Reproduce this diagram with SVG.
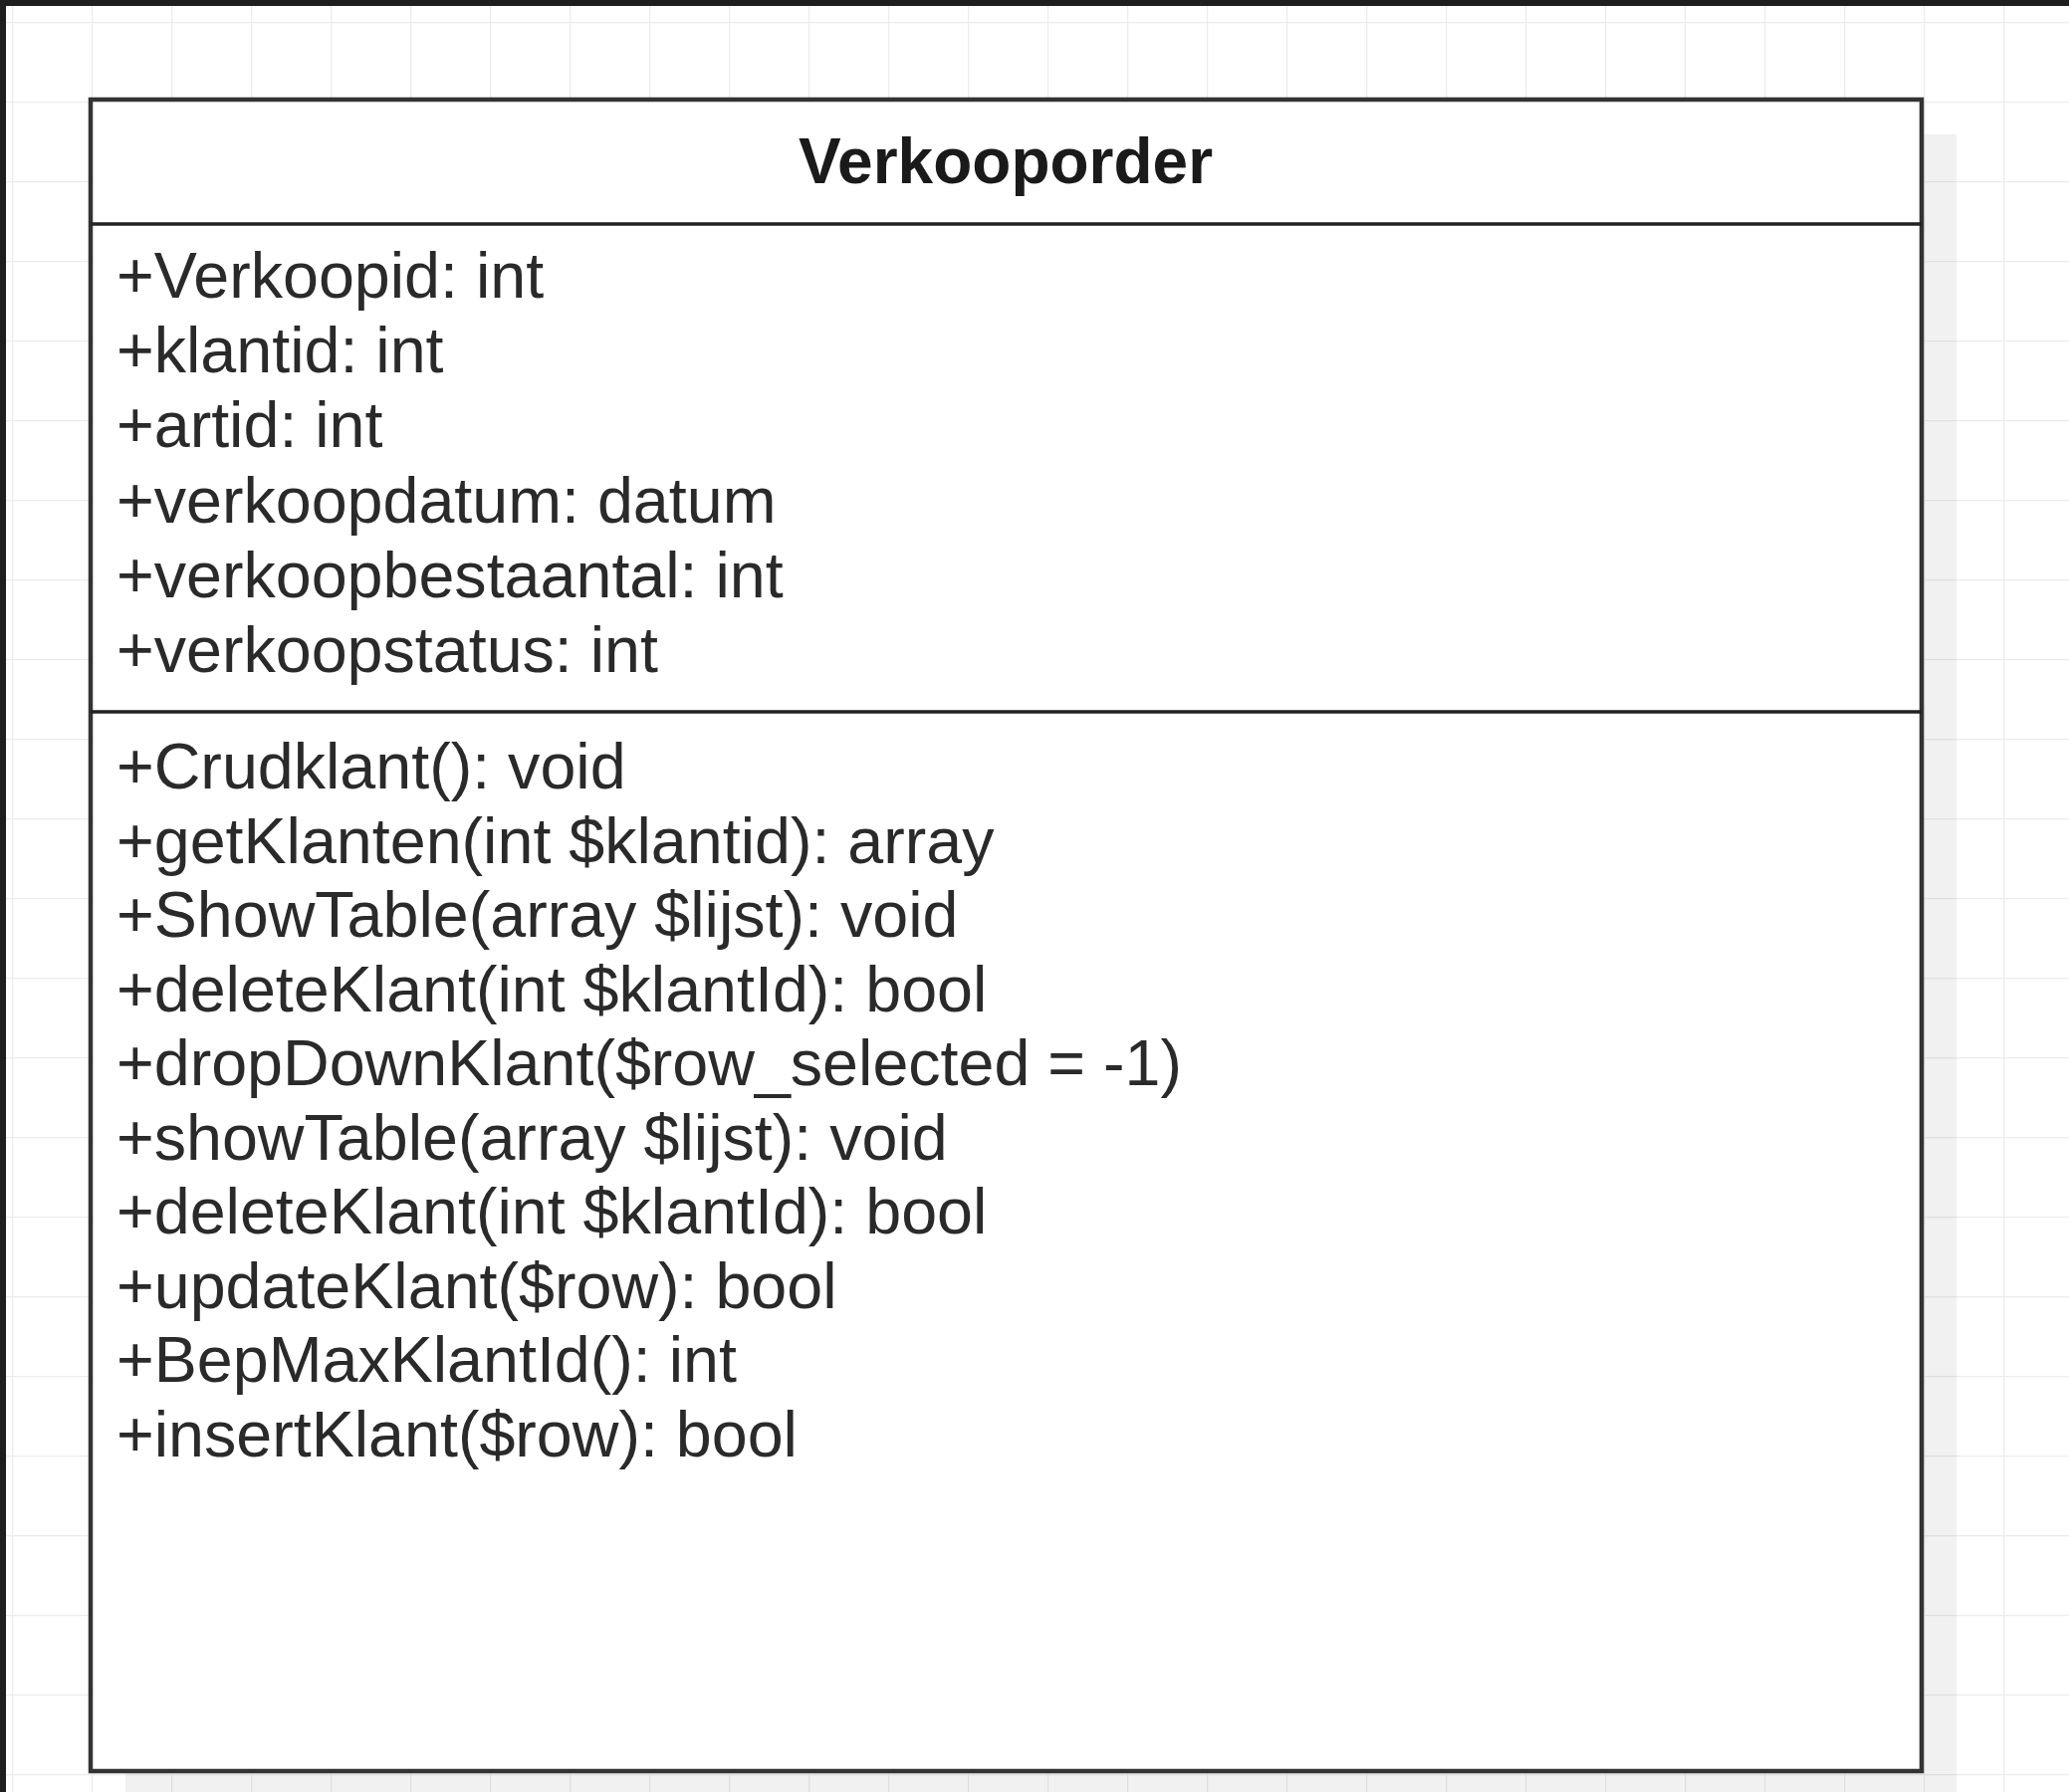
<svg xmlns="http://www.w3.org/2000/svg" width="2078" height="1800" viewBox="0 0 2078 1800">
  <defs>
    <pattern id="grid" x="12" y="22" width="80" height="80" patternUnits="userSpaceOnUse">
      <path d="M0 0 H80 M0 0 V80" fill="none" stroke="#ececec" stroke-width="2.5"/>
    </pattern>
  </defs>
  <style>
    .frame { fill: #ffffff; stroke: #333333; stroke-width: 4.5; }
    .shadow { fill: #000000; fill-opacity: 0.055; }
    .divider { stroke: #222222; stroke-width: 3.5; }
    .title { font-family: "Liberation Sans", Arial, sans-serif; font-weight: bold; font-size: 64px; fill: #1a1a1a; }
    .member { font-family: "Liberation Sans", Arial, sans-serif; font-size: 64.6px; fill: #2a2a2a; }
  </style>

  <!-- canvas -->
  <rect x="0" y="0" width="2078" height="1800" fill="#ffffff"/>
  <rect x="0" y="0" width="2078" height="1800" fill="url(#grid)"/>
  <rect x="0" y="0" width="2078" height="6" fill="#1e1e1e"/>
  <rect x="0" y="0" width="6" height="1800" fill="#1e1e1e"/>

  <!-- class: Verkooporder -->
  <g id="verkooporder">
    <rect class="shadow" x="126" y="135" width="1839" height="1679"/>
    <rect class="frame" x="91" y="100" width="1839" height="1679"/>
    <line class="divider" x1="91" y1="225" x2="1930" y2="225"/>
    <line class="divider" x1="91" y1="715" x2="1930" y2="715"/>

    <text class="title" x="1010" y="184" text-anchor="middle">Verkooporder</text>

    <g class="member">
      <text x="117" y="299">+Verkoopid: int</text>
      <text x="117" y="374">+klantid: int</text>
      <text x="117" y="449">+artid: int</text>
      <text x="117" y="525">+verkoopdatum: datum</text>
      <text x="117" y="600">+verkoopbestaantal: int</text>
      <text x="117" y="675">+verkoopstatus: int</text>

      <text x="117" y="792">+Crudklant(): void</text>
      <text x="117" y="867">+getKlanten(int $klantid): array</text>
      <text x="117" y="941">+ShowTable(array $lijst): void</text>
      <text x="117" y="1016">+deleteKlant(int $klantId): bool</text>
      <text x="117" y="1090">+dropDownKlant($row_selected = -1)</text>
      <text x="117" y="1165">+showTable(array $lijst): void</text>
      <text x="117" y="1239">+deleteKlant(int $klantId): bool</text>
      <text x="117" y="1314">+updateKlant($row): bool</text>
      <text x="117" y="1388">+BepMaxKlantId(): int</text>
      <text x="117" y="1463">+insertKlant($row): bool</text>
    </g>
  </g>

  <!-- no connectors in this diagram -->
  <g id="connectors"/>
</svg>
